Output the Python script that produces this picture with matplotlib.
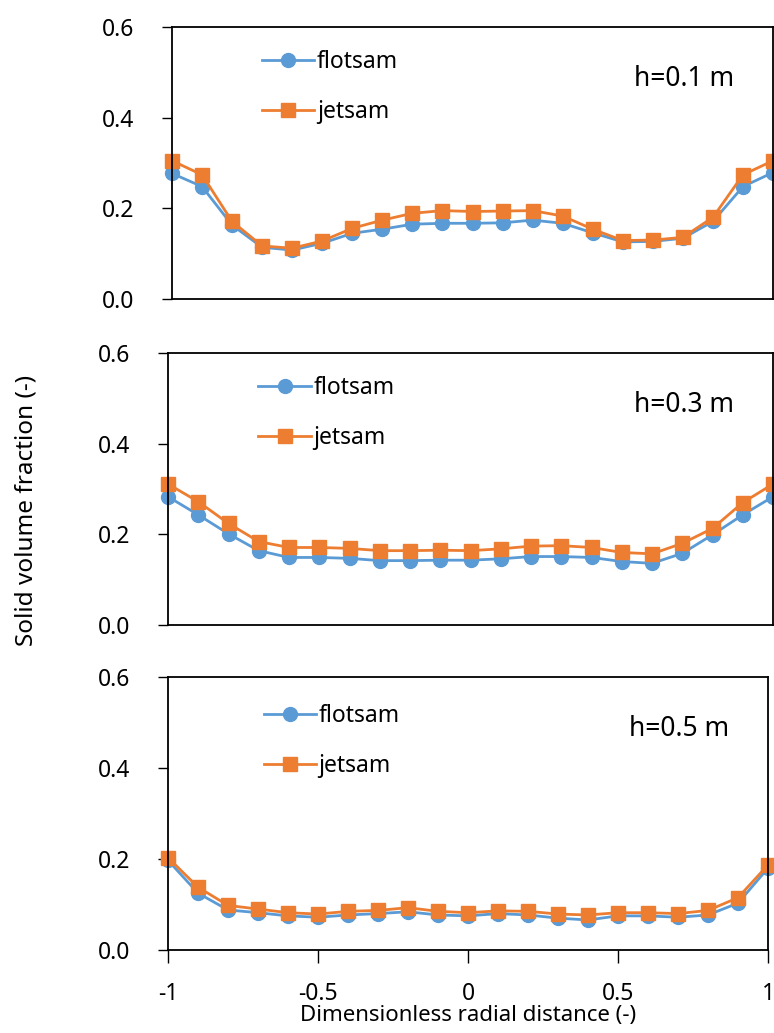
import numpy as np
import matplotlib
matplotlib.use("Agg")
import matplotlib.pyplot as plt

plt.rcParams['font.family'] = ['Noto Sans', 'DejaVu Sans']

r = [-1.0, -0.9, -0.8, -0.7, -0.6, -0.5, -0.4, -0.3, -0.2, -0.1, 0.0,
     0.1, 0.2, 0.3, 0.4, 0.5, 0.6, 0.7, 0.8, 0.9, 1.0]

# h = 0.1 m
flotsam_01 = [0.277, 0.248, 0.163, 0.114, 0.108, 0.123, 0.145, 0.154, 0.165, 0.167, 0.167,
              0.168, 0.174, 0.167, 0.146, 0.126, 0.127, 0.134, 0.171, 0.248, 0.279]
jetsam_01 = [0.305, 0.274, 0.171, 0.117, 0.112, 0.128, 0.156, 0.174, 0.189, 0.195, 0.193,
             0.194, 0.195, 0.183, 0.154, 0.129, 0.130, 0.136, 0.180, 0.274, 0.305]

# h = 0.3 m
flotsam_03 = [0.283, 0.243, 0.201, 0.164, 0.149, 0.149, 0.147, 0.142, 0.142, 0.143, 0.143,
              0.146, 0.151, 0.151, 0.149, 0.140, 0.136, 0.158, 0.199, 0.243, 0.283]
jetsam_03 = [0.311, 0.272, 0.224, 0.184, 0.171, 0.171, 0.169, 0.164, 0.164, 0.165, 0.164,
             0.168, 0.174, 0.175, 0.171, 0.160, 0.157, 0.180, 0.213, 0.270, 0.311]

# h = 0.5 m
flotsam_05 = [0.197, 0.125, 0.088, 0.082, 0.075, 0.072, 0.077, 0.080, 0.084, 0.077, 0.075,
              0.080, 0.077, 0.070, 0.066, 0.075, 0.075, 0.072, 0.077, 0.103, 0.180]
jetsam_05 = [0.203, 0.138, 0.098, 0.090, 0.082, 0.079, 0.085, 0.087, 0.093, 0.085, 0.082,
             0.086, 0.085, 0.079, 0.077, 0.082, 0.082, 0.080, 0.087, 0.115, 0.187]

heights = ['h=0.1 m', 'h=0.3 m', 'h=0.5 m']
blue = '#5B9BD5'
orange = '#ED7D31'

W, H = 774, 1033
fig = plt.figure(figsize=(W / 100, H / 100), dpi=100)

# axes boxes in pixels: left, top, right, bottom
boxes = [(172, 27, 773, 299), (168, 353, 773, 625), (168, 677, 768, 950)]
legend_pos = [(0.115, 0.99), (0.115, 0.99), (0.125, 0.975)]
series = [(flotsam_01, jetsam_01), (flotsam_03, jetsam_03), (flotsam_05, jetsam_05)]

for i, ((l, t, rt, b), (fl, je)) in enumerate(zip(boxes, series)):
    ax = fig.add_axes([l / W, 1 - b / H, (rt - l) / W, (b - t) / H])
    ax.plot(r, fl, color=blue, lw=2, marker='o', ms=10, label='flotsam', clip_on=False)
    ax.plot(r, je, color=orange, lw=2, marker='s', ms=10, label='jetsam', clip_on=False)
    ax.set_xlim(-1, 1)
    ax.set_ylim(0, 0.6)
    ax.set_yticks([0.0, 0.2, 0.4, 0.6])
    ax.set_yticklabels(['0.0', '0.2', '0.4', '0.6'])
    ax.tick_params(axis='y', direction='out', length=7, width=1, labelsize=16.5, pad=20)
    for s in ax.spines.values():
        s.set_linewidth(1.3)
    if i < 2:
        ax.set_xticks([])
    else:
        ax.set_xticks([-1, -0.5, 0, 0.5, 1])
        ax.set_xticklabels(['-1', '-0.5', '0', '0.5', '1'])
        ax.tick_params(axis='x', direction='out', length=9, width=1, labelsize=16.5, pad=14)
        ax.set_xlabel('Dimensionless radial distance (-)', fontsize=16, labelpad=-1)
    ax.legend(loc='upper left', bbox_to_anchor=legend_pos[i], frameon=False,
              fontsize=16.5, handlelength=2.3, labelspacing=1.1, handletextpad=0.1)
    ax.text(0.935, 0.81, heights[i], transform=ax.transAxes, ha='right', va='center',
            fontsize=19)

fig.text(27 / W, 1 - 510 / H, 'Solid volume fraction (-)', rotation=90,
         ha='center', va='center', fontsize=17.5)

fig.savefig('out.png', dpi=100)
